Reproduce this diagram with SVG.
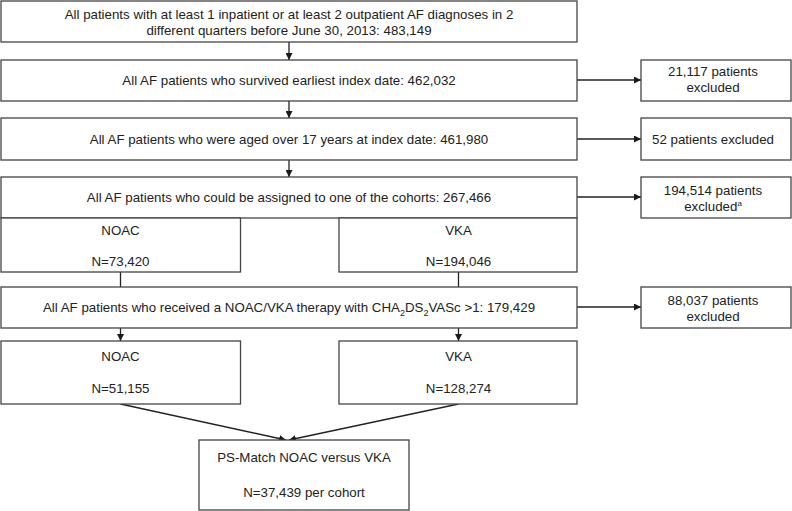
<svg xmlns="http://www.w3.org/2000/svg" width="792" height="511" viewBox="0 0 792 511">
<defs>
<marker id="ah" viewBox="0 0 10 10" refX="10" refY="5" markerWidth="7" markerHeight="7" markerUnits="userSpaceOnUse" orient="auto">
<path d="M0,0 L10,5 L0,10 Z" fill="#1a1a1a"/>
</marker>
<style>
rect{fill:#fff;stroke:#444;stroke-width:1.3}
text{font-family:"Liberation Sans",Arial,sans-serif;font-size:13.3px;fill:#222;text-anchor:middle}
.c line{stroke:#222;stroke-width:1.3}
.a{marker-end:url(#ah)}
</style>
</defs>
<rect x="0" y="0" width="792" height="511" style="fill:#fff;stroke:none"/>
<g class="c" id="connectors">
<line class="a" x1="289" y1="42" x2="289" y2="60"/>
<line class="a" x1="289" y1="101" x2="289" y2="118"/>
<line class="a" x1="289" y1="160" x2="289" y2="177"/>
<line class="a" x1="577" y1="80" x2="641" y2="80"/>
<line class="a" x1="577" y1="139" x2="641" y2="139"/>
<line class="a" x1="577" y1="197" x2="641" y2="197"/>
<line class="a" x1="577" y1="307" x2="641" y2="307"/>
<line x1="120.5" y1="272" x2="120.5" y2="287"/>
<line x1="458.5" y1="272" x2="458.5" y2="287"/>
<line class="a" x1="120.5" y1="328" x2="120.5" y2="341"/>
<line class="a" x1="458.5" y1="328" x2="458.5" y2="341"/>
<line class="a" x1="120.5" y1="404" x2="286" y2="440"/>
<line class="a" x1="458.5" y1="404" x2="289" y2="440"/>
</g>
<g id="n1"><rect x="1" y="1" width="576" height="41"/>
<text x="289" y="19">All patients with at least 1 inpatient or at least 2 outpatient AF diagnoses in 2</text>
<text x="289" y="35">different quarters before June 30, 2013: 483,149</text></g>
<g id="n2"><rect x="1" y="60" width="576" height="41"/>
<text x="289" y="85">All AF patients who survived earliest index date: 462,032</text></g>
<g id="x1"><rect x="641" y="60" width="150" height="41"/>
<text x="713" y="76">21,117 patients</text>
<text x="713" y="92">excluded</text></g>
<g id="n3"><rect x="1" y="118" width="576" height="42"/>
<text x="289" y="144">All AF patients who were aged over 17 years at index date: 461,980</text></g>
<g id="x2"><rect x="641" y="118" width="150" height="42"/>
<text x="713" y="144">52 patients excluded</text></g>
<g id="n4"><rect x="1" y="177" width="576" height="41"/>
<text x="289" y="202">All AF patients who could be assigned to one of the cohorts: 267,466</text></g>
<g id="x3"><rect x="641" y="177" width="150" height="41"/>
<text x="713" y="195">194,514 patients</text>
<text x="713" y="211">excluded<tspan dy="-5" style="font-size:8px">a</tspan></text></g>
<g id="n4a"><rect x="1" y="218" width="239.5" height="54"/>
<text x="120.5" y="235">NOAC</text>
<text x="120.5" y="266">N=73,420</text></g>
<g id="n4b"><rect x="339" y="218" width="238" height="54"/>
<text x="458.5" y="235">VKA</text>
<text x="458.5" y="266">N=194,046</text></g>
<g id="n5"><rect x="1" y="287" width="576" height="41"/>
<text x="289" y="312">All AF patients who received a NOAC/VKA therapy with CHA<tspan dy="4" style="font-size:9px">2</tspan><tspan dy="-4">DS</tspan><tspan dy="4" style="font-size:9px">2</tspan><tspan dy="-4">VASc &gt;1: 179,429</tspan></text></g>
<g id="x4"><rect x="641" y="287" width="150" height="41"/>
<text x="713" y="305">88,037 patients</text>
<text x="713" y="321">excluded</text></g>
<g id="n6a"><rect x="1" y="341" width="239.5" height="63"/>
<text x="120.5" y="361">NOAC</text>
<text x="120.5" y="393">N=51,155</text></g>
<g id="n6b"><rect x="339" y="341" width="238" height="63"/>
<text x="458.5" y="361">VKA</text>
<text x="458.5" y="393">N=128,274</text></g>
<g id="n7"><rect x="199" y="440" width="210" height="70"/>
<text x="304" y="462">PS-Match NOAC versus VKA</text>
<text x="304" y="497">N=37,439 per cohort</text></g>
</svg>
